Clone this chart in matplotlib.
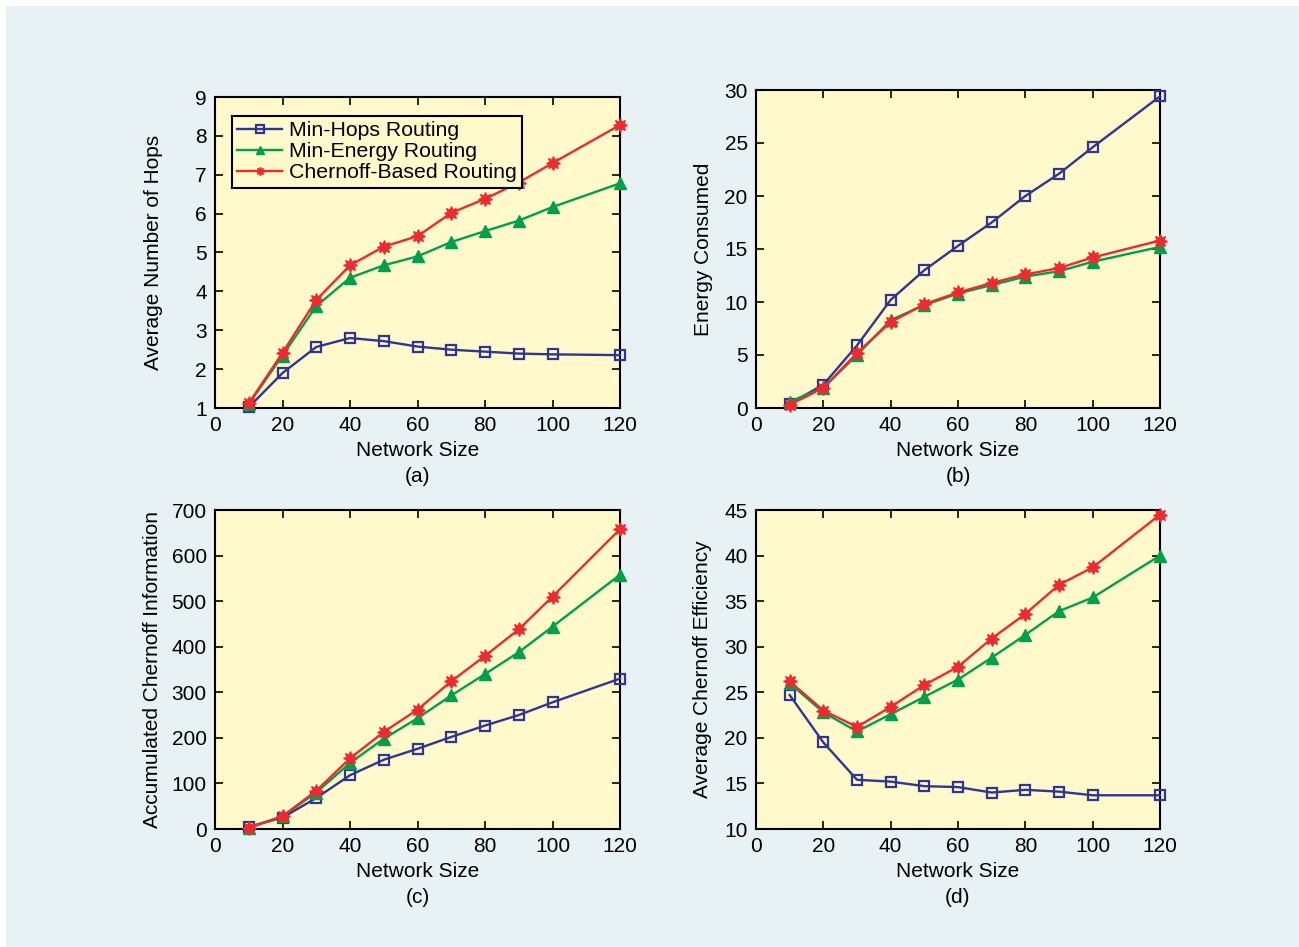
import numpy as np
import matplotlib
matplotlib.use("Agg")
import matplotlib.pyplot as plt
from matplotlib.patches import Rectangle

plt.rcParams['font.family'] = ['Liberation Sans', 'DejaVu Sans']

# network sizes (no point at 110)
sizes = [10, 20, 30, 40, 50, 60, 70, 80, 90, 100, 120]
names = ['Min-Hops Routing', 'Min-Energy Routing', 'Chernoff-Based Routing']

# (a) average number of hops
hops_minhops = [1.02, 1.9, 2.57, 2.8, 2.72, 2.58, 2.5, 2.45, 2.4, 2.38, 2.36]
hops_minenergy = [1.1, 2.35, 3.62, 4.35, 4.67, 4.9, 5.27, 5.55, 5.82, 6.17, 6.78]
hops_chernoff = [1.12, 2.42, 3.78, 4.67, 5.15, 5.42, 6.02, 6.38, 6.8, 7.3, 8.28]

# (b) energy consumed
energy_minhops = [0.4, 2.2, 5.9, 10.2, 13.0, 15.3, 17.5, 20.0, 22.1, 24.6, 29.4]
energy_minenergy = [0.6, 1.9, 5.0, 8.3, 9.7, 10.8, 11.6, 12.4, 12.9, 13.8, 15.2]
energy_chernoff = [0.3, 1.9, 5.2, 8.1, 9.8, 10.9, 11.8, 12.6, 13.2, 14.2, 15.8]

# (c) accumulated chernoff information
info_minhops = [5, 25, 68, 118, 152, 176, 202, 227, 250, 278, 330]
info_minenergy = [2, 28, 80, 145, 198, 243, 293, 340, 388, 444, 558]
info_chernoff = [3, 28, 84, 155, 213, 262, 324, 380, 438, 510, 658]

# (d) average chernoff efficiency
eff_minhops = [24.7, 19.5, 15.4, 15.2, 14.7, 14.6, 14.0, 14.3, 14.1, 13.7, 13.7]
eff_minenergy = [26.0, 22.8, 20.7, 22.6, 24.5, 26.4, 28.8, 31.3, 33.9, 35.4, 40.0]
eff_chernoff = [26.2, 23.0, 21.2, 23.4, 25.8, 27.8, 30.9, 33.6, 36.8, 38.7, 44.5]

blue = '#2E3592'
green = '#00A04A'
red = '#EE2A2F'
yellow = '#FFF9CC'
panel = '#E8F1F3'

fig = plt.figure(figsize=(12.99, 9.47), dpi=100, facecolor='white')
fig.patches.append(Rectangle((6/1299, 0), 1 - 6/1299, 1 - 6/947,
                             transform=fig.transFigure, facecolor=panel,
                             edgecolor='none', zorder=-10))

W = 1299.0
H = 947.0
def box(l, r, t, b):
    return [l/W, 1 - b/H, (r - l)/W, (b - t)/H]

panels = [
    (box(215, 620, 97, 408), hops_minhops, hops_minenergy, hops_chernoff,
     'Average Number of Hops', (1, 9), np.arange(1, 10, 1), '(a)', -0.128),
    (box(756, 1160, 90, 408), energy_minhops, energy_minenergy, energy_chernoff,
     'Energy Consumed', (0, 30), np.arange(0, 31, 5), '(b)', -0.106),
    (box(215, 620, 510, 829), info_minhops, info_minenergy, info_chernoff,
     'Accumulated Chernoff Information', (0, 700), np.arange(0, 701, 100), '(c)', -0.131),
    (box(756, 1160, 510, 829), eff_minhops, eff_minenergy, eff_chernoff,
     'Average Chernoff Efficiency', (10, 45), np.arange(10, 46, 5), '(d)', -0.109),
]

fs = 15
for i, (pos, s1, s2, s3, ylab, ylim, yt, tag, ylx) in enumerate(panels):
    ax = fig.add_axes(pos)
    ax.set_facecolor(yellow)
    ax.plot(sizes, s1, color=blue, lw=1.7, marker='s', ms=7, mfc='none',
            mec=blue, mew=1.6, label=names[0], clip_on=False, zorder=3)
    ax.plot(sizes, s2, color=green, lw=1.7, marker='^', ms=9, mfc=green,
            mec=green, label=names[1], clip_on=False, zorder=4)
    ax.plot(sizes, s3, color=red, lw=1.7, marker=(8, 1, 0), ms=10, mfc=red,
            mec=red, mew=1, label=names[2], clip_on=False, zorder=5)
    ax.set_xlim(0, 120)
    ax.set_xticks(np.arange(0, 121, 20))
    ax.set_ylim(*ylim)
    ax.set_yticks(yt)
    ax.tick_params(direction='in', top=True, right=True, length=6, width=1.2,
                   labelsize=fs, pad=6)
    for sp in ax.spines.values():
        sp.set_linewidth(1.5)
    ax.set_xlabel('Network Size\n' + tag, fontsize=fs, linespacing=1.45,
                  labelpad=4)
    ax.set_ylabel(ylab, fontsize=fs)
    ax.yaxis.set_label_coords(ylx, 0.5)
    if i == 0:
        leg = ax.legend(loc='upper left', bbox_to_anchor=(0.042, 0.94),
                        fontsize=15.3, frameon=True, fancybox=False,
                        facecolor=yellow, framealpha=1, edgecolor='black',
                        borderpad=0.25, labelspacing=0.1, handlelength=2.1,
                        handletextpad=0.35, borderaxespad=0)
        leg.get_frame().set_linewidth(1.5)
        for h in leg.legend_handles:
            h.set_markersize(6)

fig.savefig('out.png', dpi=100, facecolor=fig.get_facecolor())
